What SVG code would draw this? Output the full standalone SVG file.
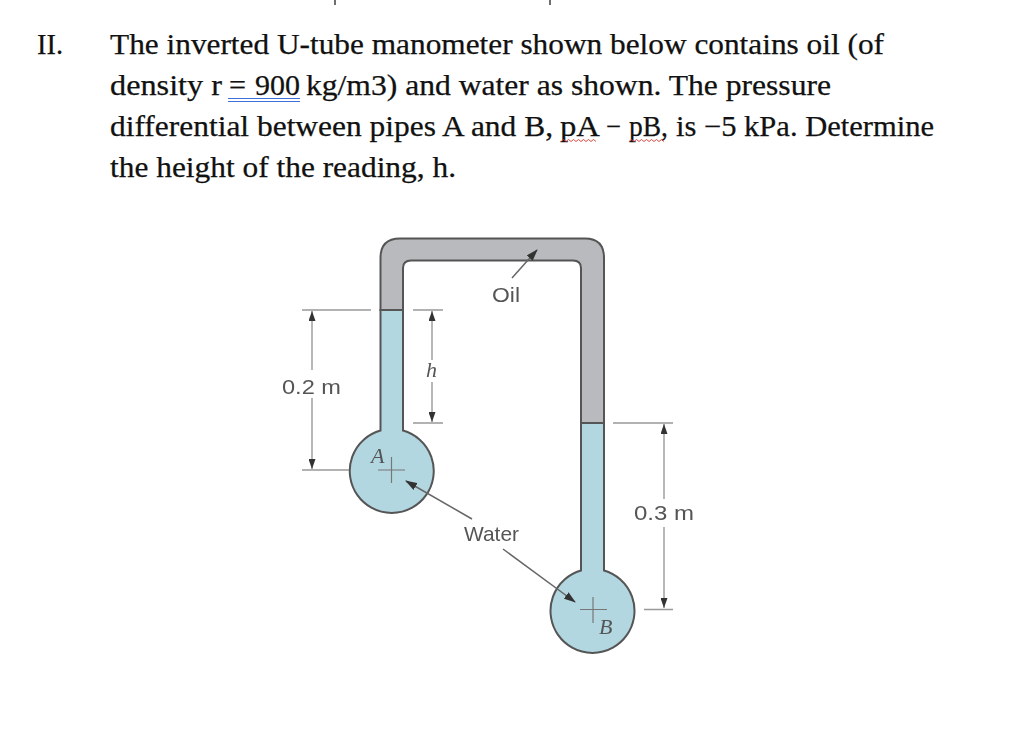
<svg xmlns="http://www.w3.org/2000/svg" width="1024" height="736" viewBox="0 0 1024 736">
<style>
.q{font-family:"Liberation Serif","Times New Roman",serif;font-size:29px;fill:#111;stroke:#111;stroke-width:.25}
.l{font-family:"Liberation Sans",Arial,sans-serif;font-size:21px;fill:#555}
.i{font-family:"Liberation Serif","Times New Roman",serif;font-style:italic;font-size:22px;fill:#555}
.tube{stroke:#555;stroke-width:2}
.dim{stroke:#a5a5a5;stroke-width:1.6;fill:none}
.ext{stroke:#999;stroke-width:1.6;fill:none}
.lead{stroke:#666;stroke-width:1.5;fill:none}
.cross{stroke:#777;stroke-width:1.2;fill:none}
</style>
<defs>
<filter id="soft" x="-5%" y="-5%" width="110%" height="110%"><feGaussianBlur stdDeviation="0.6"/></filter>
<marker id="ah" markerWidth="12" markerHeight="8" refX="11" refY="4" orient="auto-start-reverse" markerUnits="userSpaceOnUse"><path d="M0 0L12 4L0 8Z" fill="#333"/></marker>
<marker id="dh" markerWidth="10" markerHeight="7" refX="10" refY="3.500" orient="auto-start-reverse" markerUnits="userSpaceOnUse"><path d="M0 0L10 3.500L0 7Z" fill="#333"/></marker>
</defs>
<rect width="1024" height="736" fill="#fff"/>
<g id="question">
<path d="M335 0V5M550 0V5" stroke="#222" stroke-width="1.3"/>
<text class="q" x="37" y="54" textLength="26" lengthAdjust="spacingAndGlyphs">II.</text>
<text class="q" x="110" y="54" textLength="774" lengthAdjust="spacingAndGlyphs">The inverted U-tube manometer shown below contains oil (of</text>
<text class="q" x="110" y="95" textLength="112" lengthAdjust="spacingAndGlyphs">density r</text>
<text class="q" x="229" y="95" textLength="17" lengthAdjust="spacingAndGlyphs">=</text>
<text class="q" x="255" y="95" textLength="45" lengthAdjust="spacingAndGlyphs">900</text>
<text class="q" x="306" y="95" textLength="525" lengthAdjust="spacingAndGlyphs">kg/m3) and water as shown. The pressure</text>
<text class="q" x="110" y="136" textLength="443" lengthAdjust="spacingAndGlyphs">differential between pipes A and B,</text>
<text class="q" x="560" y="136" textLength="40" lengthAdjust="spacingAndGlyphs">pA</text>
<text class="q" x="606" y="136" textLength="15" lengthAdjust="spacingAndGlyphs">−</text>
<text class="q" x="629" y="136" textLength="39" lengthAdjust="spacingAndGlyphs">pB,</text>
<text class="q" x="676" y="136" textLength="258" lengthAdjust="spacingAndGlyphs">is −5 kPa. Determine</text>
<text class="q" x="110" y="177" textLength="346" lengthAdjust="spacingAndGlyphs">the height of the reading, h.</text>
<path d="M228 98.500H300M228 101.500H300" stroke="#3f6fd8" stroke-width="1"/>
<path d="M561 141.500l2.500-2 2.500 2 2.500-2 2.500 2 2.500-2 2.500 2 2.500-2 2.500 2 2.500-2 2.500 2 2.500-2 2.500 2 2.500-2 2.500 2M629 141.500l2.500-2 2.500 2 2.500-2 2.500 2 2.500-2 2.500 2 2.500-2 2.500 2 2.500-2 2.500 2 2.500-2 2.500 2 2.500-2 2.500 2" fill="none" stroke="#d9352b" stroke-width="0.9"/>
</g>
<g id="manometer" filter="url(#soft)">
<g id="oil">
<path class="tube" fill="#b9babd" d="M380.500 310V258Q380.500 238.500 400 238.500H585Q604 238.500 604 258V423H581V268Q581 260.500 573 260.500H411Q403 260.500 403 268V310Z"/>
</g>
<g id="bulb-a">
<path class="tube" fill="#b2d7e1" d="M380.500 310H403V430.500A42 42 0 1 1 380.500 430.500Z"/>
<path d="M380.500 310H403" stroke="#555" stroke-width="1.5"/>
<path class="cross" d="M378 470H405M391.500 457V483"/>
<text class="i" x="371" y="463">A</text>
</g>
<g id="bulb-b">
<path class="tube" fill="#b2d7e1" d="M581 423H604V570.500A42 42 0 1 1 581 570.500Z"/>
<path d="M581 423H604" stroke="#555" stroke-width="1.5"/>
<path class="cross" d="M580 609.500H607M593 597V623"/>
<text class="i" x="599" y="634">B</text>
</g>
<g id="connectors">
<path class="ext" d="M302 310H371M413 310H443M302 470H349M413 423H443M613 423H673M644 609.500H673"/>
<path class="dim" d="M312 311V370" marker-start="url(#dh)"/>
<path class="dim" d="M312 398V469" marker-end="url(#dh)"/>
<path class="dim" d="M432 311V360" marker-start="url(#dh)"/>
<path class="dim" d="M432 382V422" marker-end="url(#dh)"/>
<path class="dim" d="M664 424V499" marker-start="url(#dh)"/>
<path class="dim" d="M664 527V608" marker-end="url(#dh)"/>
<path class="lead" d="M512 278L537 250" marker-end="url(#ah)"/>
<path class="lead" d="M472 519L406 481" marker-end="url(#ah)"/>
<path class="lead" d="M503 549L575 602" marker-end="url(#ah)"/>
</g>
<g id="labels">
<text class="l" x="282" y="394" textLength="59" lengthAdjust="spacingAndGlyphs">0.2 m</text>
<text class="i" x="426" y="377">h</text>
<text class="l" x="492" y="302" textLength="28" lengthAdjust="spacingAndGlyphs">Oil</text>
<text class="l" x="464" y="541" textLength="55" lengthAdjust="spacingAndGlyphs">Water</text>
<text class="l" x="634" y="520" textLength="60" lengthAdjust="spacingAndGlyphs">0.3 m</text>
</g>
</g>
</svg>
